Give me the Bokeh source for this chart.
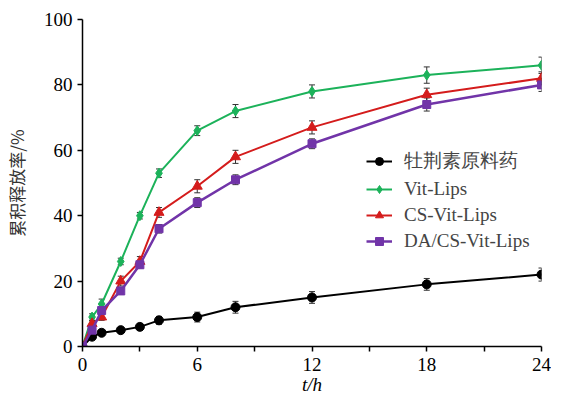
from bokeh.plotting import figure
from bokeh.models import FixedTicker, Whisker, ColumnDataSource, Legend, LegendItem, TeeHead, Range1d
from bokeh.embed import file_html
from bokeh.resources import INLINE

t = [0, 0.5, 1, 2, 3, 4, 6, 8, 12, 18, 24]

raw = [0, 3, 4.2, 5, 6, 8, 9, 12, 15, 19, 22]
raw_err = [0, 0.5, 0.8, 0.8, 1, 1.2, 1.5, 1.8, 1.8, 1.8, 2]
vit = [0, 9, 13, 26, 40, 53, 66, 72, 78, 83, 86]
vit_err = [0, 1, 1.5, 1, 1, 1.3, 1.5, 2, 2, 2.5, 2.5]
cs = [0, 7, 9, 20, 26, 41, 49, 58, 67, 77, 82]
cs_err = [0, 1, 1, 1.5, 1.5, 1.5, 2, 2, 2, 2, 2]
da = [0, 5, 11, 17, 25, 36, 44, 51, 62, 74, 80]
da_err = [0, 1, 1, 1, 1, 1.3, 1.5, 1.5, 1.5, 2, 2]

names = ["牡荆素原料药", "Vit-Lips", "CS-Vit-Lips", "DA/CS-Vit-Lips"]
x_ticks = [0, 6, 12, 18, 24]
x_minor = [3, 9, 15, 21]
y_ticks = [0, 20, 40, 60, 80, 100]

SERIF = "Liberation Serif"
AXIS_SERIF = "serif"
CJK = "Noto Sans CJK SC"

p = figure(width=551, height=397, output_backend="svg", toolbar_location=None,
           x_range=Range1d(0, 24), y_range=Range1d(0, 100),
           min_border_left=75, min_border_right=10, min_border_top=19, min_border_bottom=50)
p.outline_line_color = None
p.xgrid.visible = False
p.ygrid.visible = False
p.background_fill_color = "white"

p.axis.axis_line_width = 1.5
p.axis.axis_line_color = "black"
p.axis.major_tick_line_color = "black"
p.axis.major_tick_line_width = 1.5
p.axis.minor_tick_line_color = "black"
p.axis.minor_tick_line_width = 1.5
p.axis.major_tick_in = 0
p.axis.major_tick_out = 5
p.axis.minor_tick_in = 0
p.axis.minor_tick_out = 5
p.axis.major_label_text_font = AXIS_SERIF
p.axis.major_label_text_font_size = "19px"
p.axis.major_label_text_color = "black"

p.xaxis.ticker = FixedTicker(ticks=x_ticks, minor_ticks=x_minor)
p.yaxis.ticker = FixedTicker(ticks=y_ticks, minor_ticks=[])
p.xaxis.major_label_standoff = 6
p.yaxis.major_label_standoff = 5

p.xaxis.axis_label = "t/h"
p.xaxis.axis_label_text_font = AXIS_SERIF
p.xaxis.axis_label_text_font_style = "italic"
p.xaxis.axis_label_text_font_size = "19px"
p.xaxis.axis_label_text_color = "black"
p.xaxis.axis_label_standoff = 0

p.yaxis.axis_label = "累积释放率/%"
p.yaxis.axis_label_text_font = CJK
p.yaxis.axis_label_text_font_style = "normal"
p.yaxis.axis_label_text_font_size = "17px"
p.yaxis.axis_label_text_color = "#333333"
p.yaxis.axis_label_standoff = 12

series = [
    (raw, raw_err, "black", "circle", 9, 2),
    (vit, vit_err, "#1cb25a", "diamond", 10, 2),
    (cs, cs_err, "#d41c1c", "triangle", 10, 2),
    (da, da_err, "#7134a8", "square", 8, 2.5),
]

items = []
for (ys, es, col, mk, sz, lw), name in zip(series, names):
    src = ColumnDataSource(dict(x=t, y=ys,
                                lo=[a - b for a, b in zip(ys, es)],
                                hi=[a + b for a, b in zip(ys, es)]))
    w = Whisker(base="x", upper="hi", lower="lo", source=src, line_color="#333333", line_width=1,
                upper_head=TeeHead(size=6, line_color="#333333", line_width=1),
                lower_head=TeeHead(size=6, line_color="#333333", line_width=1))
    p.add_layout(w)
    r1 = p.line("x", "y", source=src, line_color=col, line_width=lw)
    r2 = p.scatter("x", "y", source=src, marker=mk, size=sz, fill_color=col, line_color=col)
    items.append(LegendItem(label=name, renderers=[r1, r2]))

legend = Legend(items=items, location=(284, 94), padding=0, margin=0,
                border_line_color=None, background_fill_alpha=0,
                glyph_width=26, glyph_height=20, label_height=20, spacing=4,
                label_standoff=12, label_text_font=SERIF, label_text_font_size="19px")
p.add_layout(legend)

open("out.html", "w").write(file_html(p, INLINE))
